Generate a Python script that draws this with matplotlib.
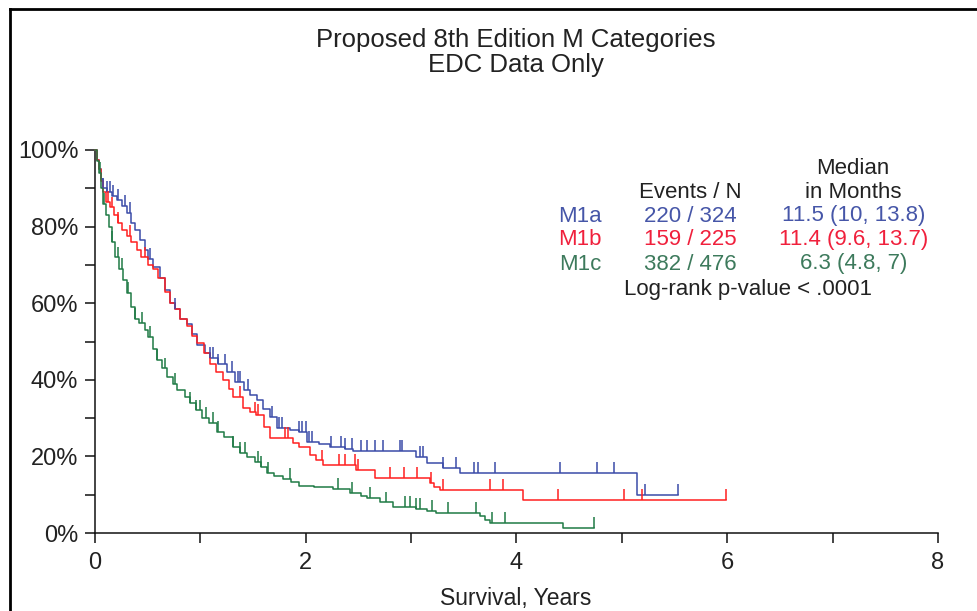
import numpy as np
import matplotlib
matplotlib.use("Agg")
import matplotlib.pyplot as plt
from matplotlib.ticker import MultipleLocator, FuncFormatter
from matplotlib.lines import Line2D

plt.rcParams['font.family'] = ['Liberation Sans', 'DejaVu Sans']

# ---------------- data ----------------
m1a_t = [0, .02, .04, .06, .08, .11, .16, .21, .26, .30, .34, .38, .43, .47, .50, .55, .62, .66, .71, .76,
         .81, .87, .92, .97, 1.04, 1.09, 1.17, 1.25, 1.33, 1.41, 1.47, 1.54, 1.59, 1.66, 1.73, 1.85, 1.94,
         2.01, 2.13, 2.23, 2.37, 2.45, 3.05, 3.15, 3.30, 3.46, 5.14]
m1a_s = [1.0, .975, .95, .925, .90, .89, .88, .87, .855, .835, .81, .79, .765, .74, .715, .695, .665, .635,
         .60, .585, .56, .545, .52, .49, .47, .457, .44, .42, .395, .373, .36, .347, .325, .303, .274, .27,
         .264, .238, .232, .225, .22, .214, .198, .183, .17, .157, .099]
m1a_end = 5.53
m1a_cens = [.08, .11, .14, .17, .22, .28, .33, .52, .76, 1.09, 1.12, 1.17, 1.23, 1.30, 1.36, 1.38, 1.45,
            1.68, 1.75, 1.77, 1.94, 1.96, 2.0, 2.03, 2.06, 2.24, 2.33, 2.37, 2.44, 2.52, 2.58, 2.66, 2.73,
            2.89, 2.91, 3.08, 3.11, 3.30, 3.43, 3.60, 3.63, 3.80, 4.41, 4.76, 4.93, 5.22, 5.53]

m1b_t = [0, .02, .04, .06, .08, .10, .14, .18, .22, .26, .30, .34, .40, .44, .50, .55, .60, .66, .71, .76,
         .81, .87, .92, .97, 1.03, 1.09, 1.15, 1.21, 1.27, 1.31, 1.40, 1.47, 1.53, 1.60, 1.66, 1.88, 1.94,
         2.04, 2.10, 2.16, 2.48, 2.66, 3.18, 3.22, 3.27, 4.06]
m1b_s = [1.0, .975, .95, .92, .89, .865, .85, .83, .81, .79, .775, .76, .74, .72, .70, .69, .665, .63, .60,
         .585, .56, .54, .515, .495, .47, .44, .42, .40, .375, .355, .326, .315, .308, .277, .248, .235,
         .225, .204, .19, .178, .164, .144, .13, .12, .112, .086]
m1b_end = 5.99
m1b_cens = [.12, .16, .22, .33, .47, 1.38, 1.52, 1.55, 1.80, 1.83, 2.15, 2.32, 2.37, 2.47, 2.50, 2.80,
            2.93, 3.06, 3.19, 3.30, 3.75, 3.87, 4.39, 5.02, 5.19, 5.99]

m1c_t = [0, .02, .04, .06, .08, .10, .13, .16, .19, .23, .27, .30, .34, .38, .42, .47, .50, .55, .59, .64,
         .68, .74, .78, .85, .90, .96, 1.02, 1.08, 1.16, 1.22, 1.31, 1.38, 1.44, 1.52, 1.58, 1.63, 1.70,
         1.78, 1.86, 1.94, 2.08, 2.26, 2.42, 2.52, 2.58, 2.70, 2.83, 3.05, 3.15, 3.24, 3.65, 3.70, 3.75, 4.44]
m1c_s = [1.0, .97, .94, .90, .86, .83, .80, .76, .72, .69, .66, .627, .59, .56, .548, .53, .512, .48, .452,
         .43, .407, .39, .373, .355, .339, .32, .30, .287, .265, .25, .225, .21, .198, .185, .172, .157,
         .15, .142, .133, .123, .12, .115, .104, .097, .091, .08, .068, .063, .058, .052, .044, .035,
         .026, .013]
m1c_end = 4.74
m1c_cens = [.05, .09, .16, .22, .26, .31, .38, .45, .52, .59, .66, .76, .90, .96, 1.0, 1.05, 1.12, 1.17,
            1.31, 1.38, 1.42, 1.55, 1.58, 1.64, 1.85, 2.31, 2.44, 2.61, 2.76, 2.94, 2.99, 3.05, 3.08, 3.20,
            3.35, 3.62, 3.77, 3.89, 4.74]

groups = ["M1a", "M1b", "M1c"]
events_n = ["220 / 324", "159 / 225", "382 / 476"]
medians = ["11.5 (10, 13.8)", "11.4 (9.6, 13.7)", "6.3 (4.8, 7)"]
line_colors = ["#3b4ba8", "#ff1f1f", "#1f7a45"]
text_colors = ["#4656a8", "#f0203c", "#3d7a5c"]

x_ticks = [0, 2, 4, 6, 8]
y_ticks = [0, 0.2, 0.4, 0.6, 0.8, 1.0]

# ---------------- figure ----------------
W, H = 978, 611
fig = plt.figure(figsize=(W / 100, H / 100), dpi=100)
fig.patch.set_facecolor("white")

def fx(px):
    return px / W

def fy(py):
    return 1 - py / H

# outer frame (left & top visible)
fig.add_artist(Line2D([fx(10), fx(10)], [fy(9), 0], transform=fig.transFigure, color="black", lw=2))
fig.add_artist(Line2D([fx(10), 1], [fy(9), fy(9)], transform=fig.transFigure, color="black", lw=2))

ax = fig.add_axes([fx(95), fy(533), fx(938) - fx(95), fy(150) - fy(533)])
ax.set_xlim(0, 8)
ax.set_ylim(0, 1)
for sp in ["top", "right"]:
    ax.spines[sp].set_visible(False)
for sp in ["left", "bottom"]:
    ax.spines[sp].set_linewidth(1.1)
    ax.spines[sp].set_color("#111111")

ax.set_xticks(x_ticks)
ax.set_yticks(y_ticks)
ax.xaxis.set_minor_locator(MultipleLocator(1))
ax.yaxis.set_minor_locator(MultipleLocator(0.1))
ax.yaxis.set_major_formatter(FuncFormatter(lambda v, p: f"{int(round(v * 100))}%"))
ax.tick_params(which="both", direction="out", length=7, width=1.1, color="#111111",
               labelsize=17, labelcolor="#222222")
ax.tick_params(axis="y", pad=5)
ax.tick_params(axis="x", pad=7)

series = [(m1a_t, m1a_s, m1a_end, m1a_cens),
          (m1b_t, m1b_s, m1b_end, m1b_cens),
          (m1c_t, m1c_s, m1c_end, m1c_cens)]

for (t, s, tend, cens), col in zip(series, line_colors):
    t = np.array(t, dtype=float)
    s = np.array(s, dtype=float)
    tt = np.append(t, tend)
    ss = np.append(s, s[-1])
    ax.step(tt, ss, where="post", color=col, lw=1.1, clip_on=False, zorder=3)
    c = np.array(cens, dtype=float)
    idx = np.searchsorted(t, c, side="right") - 1
    cy = s[idx]
    ax.vlines(c, cy, cy + 0.028, color=col, lw=1.1, zorder=4, clip_on=False)

# x label
fig.text(fx(516), fy(598), "Survival, Years", ha="center", va="center", fontsize=16.5, color="#222222")

# titles
fig.text(fx(516), fy(40), "Proposed 8th Edition M Categories", ha="center", va="center",
         fontsize=18.5, color="#222222")
fig.text(fx(516), fy(65), "EDC Data Only", ha="center", va="center", fontsize=18.5, color="#222222")

# legend table
fs = 16
fig.text(fx(853), fy(168), "Median", ha="center", va="center", fontsize=fs, color="#222222")
fig.text(fx(853), fy(192), "in Months", ha="center", va="center", fontsize=fs, color="#222222")
fig.text(fx(690), fy(192), "Events / N", ha="center", va="center", fontsize=fs, color="#222222")
rows_y = [216, 240, 264]
for g, en, md, tc, ry in zip(groups, events_n, medians, text_colors, rows_y):
    fig.text(fx(580), fy(ry), g, ha="center", va="center", fontsize=fs, color=tc)
    fig.text(fx(690), fy(ry), en, ha="center", va="center", fontsize=fs, color=tc)
    fig.text(fx(854), fy(ry), md, ha="center", va="center", fontsize=fs, color=tc)
fig.text(fx(748), fy(290), "Log-rank p-value < .0001", ha="center", va="center", fontsize=fs,
         color="#222222")

fig.savefig("out.png", dpi=100)
